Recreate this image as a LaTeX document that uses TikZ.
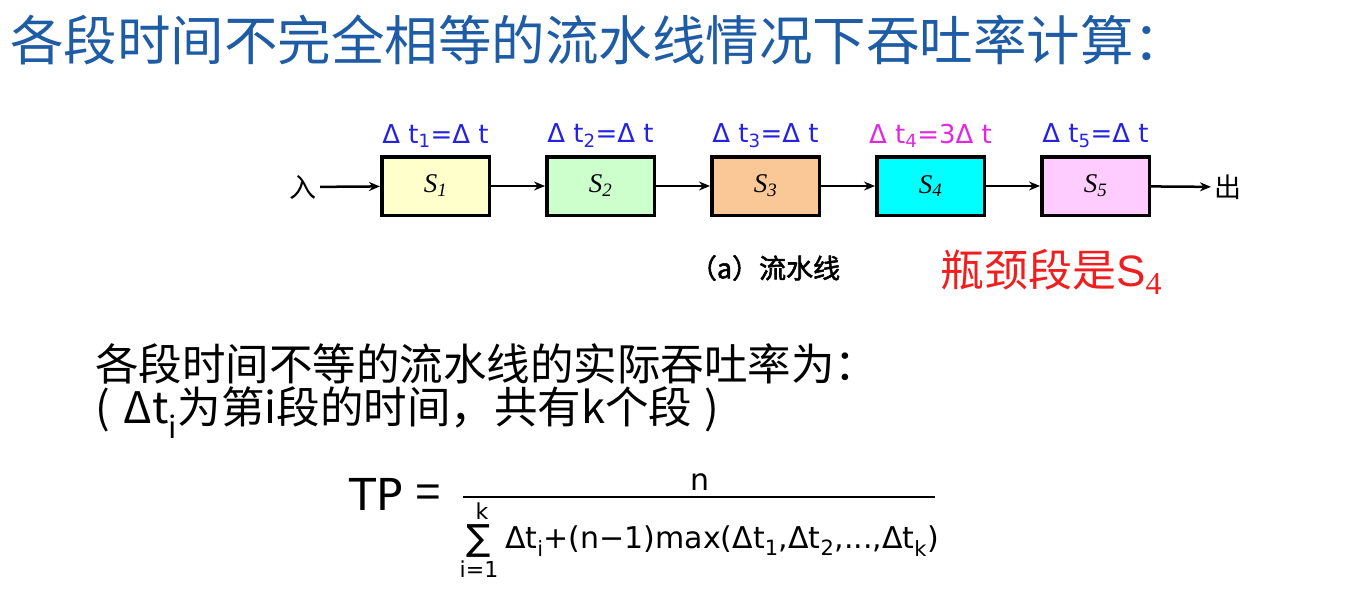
\documentclass[tikz,border=0pt]{standalone}
\usepackage{fontspec}
\setmainfont{Liberation Sans}
\newfontfamily\cjk{Noto Sans CJK SC}
\newfontfamily\cjkb[FakeBold=2]{Noto Sans CJK SC}
\newfontfamily\symf{DejaVu Sans}
\newfontfamily\serf{Liberation Serif}
\usetikzlibrary{positioning,arrows.meta}
\definecolor{titleblue}{RGB}{31,92,166}
\definecolor{dtblue}{RGB}{35,35,225}
\definecolor{dtpink}{RGB}{225,40,225}
\definecolor{neckred}{RGB}{240,30,30}
\definecolor{fillone}{RGB}{255,255,204}
\definecolor{filltwo}{RGB}{204,255,204}
\definecolor{fillthree}{RGB}{250,200,150}
\definecolor{fillfour}{RGB}{0,255,255}
\definecolor{fillfive}{RGB}{255,204,255}
\newcommand{\fsz}[1]{\fontsize{#1}{#1}\selectfont}

\begin{document}
\begin{tikzpicture}[x=1pt,y=-1pt,>={Stealth[length=11pt,width=9pt]},
  stage/.style={draw=black,line width=3.5pt,minimum width=107.5pt,minimum height=58.5pt,inner sep=0pt,font=\serf\itshape\fsz{27}},
  dtlab/.style={inner sep=1pt,font=\symf\fsz{26},text=dtblue},
  flow/.style={->,line width=2.5pt},
  ]
\useasboundingbox (0,0) rectangle (1360,592);
% heading
\node[anchor=west,inner sep=0pt,text=titleblue,font=\cjk\fsz{53.5}] (title) at (10,40) {各段时间不完全相等的流水线情况下吞吐率计算：};
% pipeline stages
\node[stage,fill=fillone] (s1) at (435.5,186) {S\textsubscript{1}};
\node[stage,fill=filltwo,right=54pt of s1] (s2) {S\textsubscript{2}};
\node[stage,fill=fillthree,right=54pt of s2] (s3) {S\textsubscript{3}};
\node[stage,fill=fillfour,right=54pt of s3] (s4) {S\textsubscript{4}};
\node[stage,fill=fillfive,right=54pt of s4] (s5) {S\textsubscript{5}};
% stage times
\node[dtlab,above=6pt of s1] (t1) {Δ t\textsubscript{1}=Δ t};
\node[dtlab,above=6pt of s2] (t2) {Δ t\textsubscript{2}=Δ t};
\node[dtlab,above=6pt of s3] (t3) {Δ t\textsubscript{3}=Δ t};
\node[dtlab,above=6pt of s4,text=dtpink] (t4) {Δ t\textsubscript{4}=3Δ t};
\node[dtlab,above=6pt of s5] (t5) {Δ t\textsubscript{5}=Δ t};
% in and out
\node[font=\cjk\fsz{27}] (in) at (303,187) {入};
\node[font=\cjk\fsz{27}] (out) at (1228,187) {出};
\draw[flow] (in) -- (s1);
\draw[flow] (s1) -- (s2);
\draw[flow] (s2) -- (s3);
\draw[flow] (s3) -- (s4);
\draw[flow] (s4) -- (s5);
\draw[flow] (s5) -- (out);
% caption and bottleneck note
\node[font=\cjkb\fsz{27}] (cap) at (765,268) {（a）流水线};
\node[anchor=west,inner sep=0pt,text=neckred,font=\fsz{44}] (neck) at (940,272) {{\cjk 瓶颈段是}S\raisebox{-8pt}{\serf\fsz{32}4}};
% explanation
\node[anchor=west,inner sep=0pt,font=\cjk\fsz{43.5}] (line1) at (95,364) {各段时间不等的流水线的实际吞吐率为：};
\node[anchor=west,inner sep=0pt,font=\cjk\fsz{43.5}] (line2) at (95,413) {(\hspace{14pt}Δt\textsubscript{i}为第i段的时间，共有k个段\hspace{12pt})};
% throughput formula
\node[font=\symf\fsz{44}] (tp) at (376,494) {TP};
\node[font=\fsz{44}] (eq) at (428,496) {=};
\coordinate (fl) at (463,497);
\coordinate (fr) at (935,497);
\draw[line width=2pt] (fl) -- (fr);
\node[font=\symf\fsz{30}] (num) at (700,482) {n};
\node[inner sep=0pt,font=\symf\fsz{36}] (sum) at (479,541) {∑};
\node[inner sep=0pt,font=\symf\fsz{22}] (kup) at (482,511) {k};
\node[inner sep=0pt,font=\symf\fsz{22}] (ilow) at (479,569) {i=1};
\node[anchor=west,inner sep=0pt,font=\symf\fsz{30}] (den) at (505,541) {Δt\textsubscript{i}+(n−1)max(Δt\textsubscript{1},Δt\textsubscript{2},...,Δt\textsubscript{k})};
\end{tikzpicture}
\end{document}
